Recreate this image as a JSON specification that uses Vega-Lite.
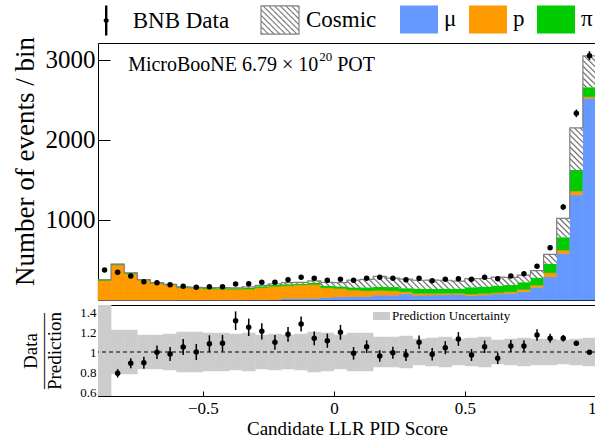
{
"$schema": "https://vega.github.io/schema/vega-lite/v6.json",
"padding": {"left": 10, "top": 0, "right": 0, "bottom": 2},
"bounds": "flush",
"spacing": 5,
"config": {
  "font": "Liberation Serif",
  "view": {"stroke": "black", "strokeWidth": 1},
  "axis": {"grid": false, "domainColor": "black", "tickColor": "black", "labelColor": "black", "titleColor": "black", "zindex": 1, "titleFontWeight": "normal", "labelFont": "Liberation Serif", "titleFont": "Liberation Serif", "labelOverlap": false},
  "legend": {"labelFont": "Liberation Serif", "labelColor": "black"}
},
"datasets": {"bins": [
{"x0":-0.9,"x1":-0.85,"xc":-0.875,"mu":0,"p":245,"pi":8,"zcosmic":0,"data":375,"err":19,"ratio":null,"rerr":null,"blo":0.4,"bhi":1.6},
{"x0":-0.85,"x1":-0.8,"xc":-0.825,"mu":0,"p":440,"pi":8,"zcosmic":0,"data":346,"err":19,"ratio":0.787,"rerr":0.042,"blo":0.78,"bhi":1.22},
{"x0":-0.8,"x1":-0.75,"xc":-0.775,"mu":0,"p":330,"pi":8,"zcosmic":0,"data":300,"err":17,"ratio":0.887,"rerr":0.05,"blo":0.78,"bhi":1.22},
{"x0":-0.75,"x1":-0.7,"xc":-0.725,"mu":0,"p":249,"pi":7,"zcosmic":0,"data":229,"err":15,"ratio":0.893,"rerr":0.06,"blo":0.83,"bhi":1.17},
{"x0":-0.7,"x1":-0.65,"xc":-0.675,"mu":0,"p":210,"pi":8,"zcosmic":0,"data":217,"err":15,"ratio":0.997,"rerr":0.068,"blo":0.83,"bhi":1.17},
{"x0":-0.65,"x1":-0.6,"xc":-0.625,"mu":0,"p":188,"pi":8,"zcosmic":0,"data":192,"err":14,"ratio":0.98,"rerr":0.07,"blo":0.82,"bhi":1.18},
{"x0":-0.6,"x1":-0.55,"xc":-0.575,"mu":1,"p":153,"pi":8,"zcosmic":2,"data":171,"err":13,"ratio":1.05,"rerr":0.08,"blo":0.8,"bhi":1.2},
{"x0":-0.55,"x1":-0.5,"xc":-0.525,"mu":1,"p":147,"pi":8,"zcosmic":2,"data":158,"err":13,"ratio":1.0,"rerr":0.08,"blo":0.8,"bhi":1.2},
{"x0":-0.5,"x1":-0.45,"xc":-0.475,"mu":2,"p":137,"pi":10,"zcosmic":5,"data":167,"err":13,"ratio":1.083,"rerr":0.084,"blo":0.81,"bhi":1.19},
{"x0":-0.45,"x1":-0.4,"xc":-0.425,"mu":2,"p":134,"pi":12,"zcosmic":6,"data":167,"err":13,"ratio":1.087,"rerr":0.084,"blo":0.81,"bhi":1.19},
{"x0":-0.4,"x1":-0.35,"xc":-0.375,"mu":2,"p":132,"pi":13,"zcosmic":5,"data":200,"err":14,"ratio":1.313,"rerr":0.093,"blo":0.82,"bhi":1.18},
{"x0":-0.35,"x1":-0.3,"xc":-0.325,"mu":3,"p":135,"pi":14,"zcosmic":12,"data":204,"err":14,"ratio":1.247,"rerr":0.087,"blo":0.81,"bhi":1.19},
{"x0":-0.3,"x1":-0.25,"xc":-0.275,"mu":3,"p":152,"pi":16,"zcosmic":12,"data":221,"err":15,"ratio":1.207,"rerr":0.081,"blo":0.83,"bhi":1.17},
{"x0":-0.25,"x1":-0.2,"xc":-0.225,"mu":4,"p":168,"pi":16,"zcosmic":13,"data":221,"err":15,"ratio":1.097,"rerr":0.074,"blo":0.82,"bhi":1.18},
{"x0":-0.2,"x1":-0.15,"xc":-0.175,"mu":18,"p":161,"pi":17,"zcosmic":20,"data":254,"err":16,"ratio":1.177,"rerr":0.074,"blo":0.83,"bhi":1.17},
{"x0":-0.15,"x1":-0.1,"xc":-0.125,"mu":20,"p":170,"pi":14,"zcosmic":17,"data":283,"err":17,"ratio":1.28,"rerr":0.076,"blo":0.82,"bhi":1.18},
{"x0":-0.1,"x1":-0.05,"xc":-0.075,"mu":22,"p":172,"pi":21,"zcosmic":23,"data":271,"err":16,"ratio":1.137,"rerr":0.069,"blo":0.8,"bhi":1.2},
{"x0":-0.05,"x1":0,"xc":-0.025,"mu":32,"p":122,"pi":21,"zcosmic":46,"data":246,"err":16,"ratio":1.113,"rerr":0.071,"blo":0.81,"bhi":1.19},
{"x0":0,"x1":0.05,"xc":0.025,"mu":40,"p":105,"pi":25,"zcosmic":46,"data":258,"err":16,"ratio":1.197,"rerr":0.074,"blo":0.83,"bhi":1.17},
{"x0":0.05,"x1":0.1,"xc":0.075,"mu":42,"p":85,"pi":30,"zcosmic":92,"data":246,"err":16,"ratio":0.987,"rerr":0.063,"blo":0.81,"bhi":1.19},
{"x0":0.1,"x1":0.15,"xc":0.125,"mu":45,"p":72,"pi":40,"zcosmic":100,"data":271,"err":16,"ratio":1.053,"rerr":0.064,"blo":0.81,"bhi":1.19},
{"x0":0.15,"x1":0.2,"xc":0.175,"mu":60,"p":62,"pi":43,"zcosmic":130,"data":283,"err":17,"ratio":0.96,"rerr":0.057,"blo":0.85,"bhi":1.15},
{"x0":0.2,"x1":0.25,"xc":0.225,"mu":60,"p":56,"pi":45,"zcosmic":112,"data":271,"err":16,"ratio":0.993,"rerr":0.06,"blo":0.85,"bhi":1.15},
{"x0":0.25,"x1":0.3,"xc":0.275,"mu":78,"p":26,"pi":42,"zcosmic":116,"data":254,"err":16,"ratio":0.97,"rerr":0.061,"blo":0.84,"bhi":1.16},
{"x0":0.3,"x1":0.35,"xc":0.325,"mu":60,"p":25,"pi":55,"zcosmic":107,"data":271,"err":16,"ratio":1.097,"rerr":0.067,"blo":0.87,"bhi":1.13},
{"x0":0.35,"x1":0.4,"xc":0.375,"mu":62,"p":22,"pi":55,"zcosmic":109,"data":242,"err":16,"ratio":0.977,"rerr":0.063,"blo":0.86,"bhi":1.14},
{"x0":0.4,"x1":0.45,"xc":0.425,"mu":65,"p":20,"pi":57,"zcosmic":105,"data":258,"err":16,"ratio":1.043,"rerr":0.065,"blo":0.85,"bhi":1.15},
{"x0":0.45,"x1":0.5,"xc":0.475,"mu":68,"p":18,"pi":55,"zcosmic":95,"data":267,"err":16,"ratio":1.13,"rerr":0.069,"blo":0.87,"bhi":1.13},
{"x0":0.5,"x1":0.55,"xc":0.525,"mu":54,"p":21,"pi":83,"zcosmic":108,"data":258,"err":16,"ratio":0.97,"rerr":0.06,"blo":0.86,"bhi":1.14},
{"x0":0.55,"x1":0.6,"xc":0.575,"mu":62,"p":21,"pi":84,"zcosmic":102,"data":283,"err":17,"ratio":1.053,"rerr":0.063,"blo":0.85,"bhi":1.15},
{"x0":0.6,"x1":0.65,"xc":0.625,"mu":75,"p":17,"pi":87,"zcosmic":106,"data":267,"err":16,"ratio":0.937,"rerr":0.057,"blo":0.88,"bhi":1.12},
{"x0":0.65,"x1":0.7,"xc":0.675,"mu":83,"p":21,"pi":83,"zcosmic":96,"data":300,"err":17,"ratio":1.06,"rerr":0.061,"blo":0.87,"bhi":1.13},
{"x0":0.7,"x1":0.75,"xc":0.725,"mu":104,"p":29,"pi":88,"zcosmic":89,"data":329,"err":18,"ratio":1.06,"rerr":0.058,"blo":0.86,"bhi":1.14},
{"x0":0.75,"x1":0.8,"xc":0.775,"mu":158,"p":29,"pi":92,"zcosmic":88,"data":421,"err":21,"ratio":1.17,"rerr":0.057,"blo":0.87,"bhi":1.13},
{"x0":0.8,"x1":0.85,"xc":0.825,"mu":292,"p":50,"pi":108,"zcosmic":121,"data":654,"err":26,"ratio":1.137,"rerr":0.045,"blo":0.87,"bhi":1.13},
{"x0":0.85,"x1":0.9,"xc":0.875,"mu":583,"p":42,"pi":158,"zcosmic":238,"data":1163,"err":34,"ratio":1.137,"rerr":0.033,"blo":0.88,"bhi":1.12},
{"x0":0.9,"x1":0.95,"xc":0.925,"mu":1315,"p":47,"pi":263,"zcosmic":525,"data":2333,"err":48,"ratio":1.087,"rerr":0.022,"blo":0.87,"bhi":1.13},
{"x0":0.95,"x1":1.0,"xc":0.975,"mu":2521,"p":20,"pi":117,"zcosmic":392,"data":3054,"err":55,"ratio":0.997,"rerr":0.018,"blo":0.86,"bhi":1.14}
]},
"vconcat": [
{
  "width": 498, "height": 257,
  "data": {"name": "bins"},
  "layer": [
    {
      "transform": [
        {"fold": ["mu","p","pi","zcosmic"], "as": ["comp","n"]},
        {"stack": "n", "groupby": ["x0"], "sort": [{"field": "comp", "order": "ascending"}], "as": ["lo","hi"]},
        {"filter": {"field": "comp", "oneOf": ["mu","p","pi"]}}
      ],
      "mark": {"type": "bar", "strokeWidth": 0.6},
      "encoding": {
        "x": {"field": "x0", "type": "quantitative", "scale": {"domain": [-0.9, 1], "nice": false, "zero": false},
              "axis": {"values": [-0.5, 0, 0.5, 1], "tickSize": -5, "labels": false, "title": null}},
        "x2": {"field": "x1"},
        "y": {"field": "lo", "type": "quantitative", "scale": {"domain": [0, 3212], "nice": false},
              "axis": {"values": [1000, 2000, 3000], "format": "d", "tickSize": -12, "labelPadding": 15, "labelFontSize": 25, "labelOverlap": false,
                       "title": "Number of events / bin", "titleFontSize": 27, "titleX": -73, "titleY": 118, "titleAngle": -90, "titleAlign": "center", "titleBaseline": "middle"}},
        "y2": {"field": "hi"},
        "color": {"field": "comp", "type": "nominal", "scale": {"domain": ["mu","p","pi"], "range": ["#6699ff","#ff9900","#00cc00"]},
                  "legend": {"orient": "none", "legendX": 302, "legendY": -43, "direction": "horizontal", "title": null,
                             "symbolType": "M-1,-0.74H1V0.74H-1Z", "symbolSize": 1444, "symbolStrokeWidth": 0, "symbolOpacity": 1,
                             "labelFontSize": 23, "labelOffset": 6, "columnPadding": 12, "padding": 0,
                             "labelExpr": "datum.label == 'mu' ? 'μ' : datum.label == 'pi' ? 'π' : datum.label"}},
        "stroke": {"field": "comp", "type": "nominal", "scale": {"domain": ["mu","p","pi"], "range": ["#6699ff","#ff9900","#00cc00"]}, "legend": null}
      }
    },
    {
      "transform": [
        {"fold": ["mu","p","pi","zcosmic"], "as": ["comp","n"]},
        {"stack": "n", "groupby": ["x0"], "sort": [{"field": "comp", "order": "ascending"}], "as": ["lo","hi"]},
        {"filter": {"field": "comp", "equal": "zcosmic"}},
        {"fold": ["x0","x1"], "as": ["edge","xe"]}
      ],
      "mark": {"type": "area", "interpolate": "linear", "strokeWidth": 0,
        "fill": {"gradient": "linear", "x1": 0, "y1": 1, "x2": 1.2044, "y2": 0.4382, "stops": [
{"offset":0,"color":"#666"},{"offset":0.0024,"color":"#fff"},{"offset":0.006,"color":"#fff"},
{"offset":0.008,"color":"#666"},{"offset":0.0104,"color":"#fff"},{"offset":0.014,"color":"#fff"},
{"offset":0.016,"color":"#666"},{"offset":0.0184,"color":"#fff"},{"offset":0.022,"color":"#fff"},
{"offset":0.024,"color":"#666"},{"offset":0.0264,"color":"#fff"},{"offset":0.03,"color":"#fff"},
{"offset":0.032,"color":"#666"},{"offset":0.0344,"color":"#fff"},{"offset":0.038,"color":"#fff"},
{"offset":0.04,"color":"#666"},{"offset":0.0424,"color":"#fff"},{"offset":0.046,"color":"#fff"},
{"offset":0.048,"color":"#666"},{"offset":0.0504,"color":"#fff"},{"offset":0.054,"color":"#fff"},
{"offset":0.056,"color":"#666"},{"offset":0.0584,"color":"#fff"},{"offset":0.062,"color":"#fff"},
{"offset":0.064,"color":"#666"},{"offset":0.0664,"color":"#fff"},{"offset":0.07,"color":"#fff"},
{"offset":0.072,"color":"#666"},{"offset":0.0744,"color":"#fff"},{"offset":0.078,"color":"#fff"},
{"offset":0.08,"color":"#666"},{"offset":0.0824,"color":"#fff"},{"offset":0.086,"color":"#fff"},
{"offset":0.088,"color":"#666"},{"offset":0.0904,"color":"#fff"},{"offset":0.094,"color":"#fff"},
{"offset":0.096,"color":"#666"},{"offset":0.0984,"color":"#fff"},{"offset":0.102,"color":"#fff"},
{"offset":0.104,"color":"#666"},{"offset":0.1064,"color":"#fff"},{"offset":0.11,"color":"#fff"},
{"offset":0.112,"color":"#666"},{"offset":0.1144,"color":"#fff"},{"offset":0.118,"color":"#fff"},
{"offset":0.12,"color":"#666"},{"offset":0.1224,"color":"#fff"},{"offset":0.126,"color":"#fff"},
{"offset":0.128,"color":"#666"},{"offset":0.1304,"color":"#fff"},{"offset":0.134,"color":"#fff"},
{"offset":0.136,"color":"#666"},{"offset":0.1384,"color":"#fff"},{"offset":0.142,"color":"#fff"},
{"offset":0.144,"color":"#666"},{"offset":0.1464,"color":"#fff"},{"offset":0.15,"color":"#fff"},
{"offset":0.152,"color":"#666"},{"offset":0.1544,"color":"#fff"},{"offset":0.158,"color":"#fff"},
{"offset":0.16,"color":"#666"},{"offset":0.1624,"color":"#fff"},{"offset":0.166,"color":"#fff"},
{"offset":0.168,"color":"#666"},{"offset":0.1704,"color":"#fff"},{"offset":0.174,"color":"#fff"},
{"offset":0.176,"color":"#666"},{"offset":0.1784,"color":"#fff"},{"offset":0.182,"color":"#fff"},
{"offset":0.184,"color":"#666"},{"offset":0.1864,"color":"#fff"},{"offset":0.19,"color":"#fff"},
{"offset":0.192,"color":"#666"},{"offset":0.1944,"color":"#fff"},{"offset":0.198,"color":"#fff"},
{"offset":0.2,"color":"#666"},{"offset":0.2024,"color":"#fff"},{"offset":0.206,"color":"#fff"},
{"offset":0.208,"color":"#666"},{"offset":0.2104,"color":"#fff"},{"offset":0.214,"color":"#fff"},
{"offset":0.216,"color":"#666"},{"offset":0.2184,"color":"#fff"},{"offset":0.222,"color":"#fff"},
{"offset":0.224,"color":"#666"},{"offset":0.2264,"color":"#fff"},{"offset":0.23,"color":"#fff"},
{"offset":0.232,"color":"#666"},{"offset":0.2344,"color":"#fff"},{"offset":0.238,"color":"#fff"},
{"offset":0.24,"color":"#666"},{"offset":0.2424,"color":"#fff"},{"offset":0.246,"color":"#fff"},
{"offset":0.248,"color":"#666"},{"offset":0.2504,"color":"#fff"},{"offset":0.254,"color":"#fff"},
{"offset":0.256,"color":"#666"},{"offset":0.2584,"color":"#fff"},{"offset":0.262,"color":"#fff"},
{"offset":0.264,"color":"#666"},{"offset":0.2664,"color":"#fff"},{"offset":0.27,"color":"#fff"},
{"offset":0.272,"color":"#666"},{"offset":0.2744,"color":"#fff"},{"offset":0.278,"color":"#fff"},
{"offset":0.28,"color":"#666"},{"offset":0.2824,"color":"#fff"},{"offset":0.286,"color":"#fff"},
{"offset":0.288,"color":"#666"},{"offset":0.2904,"color":"#fff"},{"offset":0.294,"color":"#fff"},
{"offset":0.296,"color":"#666"},{"offset":0.2984,"color":"#fff"},{"offset":0.302,"color":"#fff"},
{"offset":0.304,"color":"#666"},{"offset":0.3064,"color":"#fff"},{"offset":0.31,"color":"#fff"},
{"offset":0.312,"color":"#666"},{"offset":0.3144,"color":"#fff"},{"offset":0.318,"color":"#fff"},
{"offset":0.32,"color":"#666"},{"offset":0.3224,"color":"#fff"},{"offset":0.326,"color":"#fff"},
{"offset":0.328,"color":"#666"},{"offset":0.3304,"color":"#fff"},{"offset":0.334,"color":"#fff"},
{"offset":0.336,"color":"#666"},{"offset":0.3384,"color":"#fff"},{"offset":0.342,"color":"#fff"},
{"offset":0.344,"color":"#666"},{"offset":0.3464,"color":"#fff"},{"offset":0.35,"color":"#fff"},
{"offset":0.352,"color":"#666"},{"offset":0.3544,"color":"#fff"},{"offset":0.358,"color":"#fff"},
{"offset":0.36,"color":"#666"},{"offset":0.3624,"color":"#fff"},{"offset":0.366,"color":"#fff"},
{"offset":0.368,"color":"#666"},{"offset":0.3704,"color":"#fff"},{"offset":0.374,"color":"#fff"},
{"offset":0.376,"color":"#666"},{"offset":0.3784,"color":"#fff"},{"offset":0.382,"color":"#fff"},
{"offset":0.384,"color":"#666"},{"offset":0.3864,"color":"#fff"},{"offset":0.39,"color":"#fff"},
{"offset":0.392,"color":"#666"},{"offset":0.3944,"color":"#fff"},{"offset":0.398,"color":"#fff"},
{"offset":0.4,"color":"#666"},{"offset":0.4024,"color":"#fff"},{"offset":0.406,"color":"#fff"},
{"offset":0.408,"color":"#666"},{"offset":0.4104,"color":"#fff"},{"offset":0.414,"color":"#fff"},
{"offset":0.416,"color":"#666"},{"offset":0.4184,"color":"#fff"},{"offset":0.422,"color":"#fff"},
{"offset":0.424,"color":"#666"},{"offset":0.4264,"color":"#fff"},{"offset":0.43,"color":"#fff"},
{"offset":0.432,"color":"#666"},{"offset":0.4344,"color":"#fff"},{"offset":0.438,"color":"#fff"},
{"offset":0.44,"color":"#666"},{"offset":0.4424,"color":"#fff"},{"offset":0.446,"color":"#fff"},
{"offset":0.448,"color":"#666"},{"offset":0.4504,"color":"#fff"},{"offset":0.454,"color":"#fff"},
{"offset":0.456,"color":"#666"},{"offset":0.4584,"color":"#fff"},{"offset":0.462,"color":"#fff"},
{"offset":0.464,"color":"#666"},{"offset":0.4664,"color":"#fff"},{"offset":0.47,"color":"#fff"},
{"offset":0.472,"color":"#666"},{"offset":0.4744,"color":"#fff"},{"offset":0.478,"color":"#fff"},
{"offset":0.48,"color":"#666"},{"offset":0.4824,"color":"#fff"},{"offset":0.486,"color":"#fff"},
{"offset":0.488,"color":"#666"},{"offset":0.4904,"color":"#fff"},{"offset":0.494,"color":"#fff"},
{"offset":0.496,"color":"#666"},{"offset":0.4984,"color":"#fff"},{"offset":0.502,"color":"#fff"},
{"offset":0.504,"color":"#666"},{"offset":0.5064,"color":"#fff"},{"offset":0.51,"color":"#fff"},
{"offset":0.512,"color":"#666"},{"offset":0.5144,"color":"#fff"},{"offset":0.518,"color":"#fff"},
{"offset":0.52,"color":"#666"},{"offset":0.5224,"color":"#fff"},{"offset":0.526,"color":"#fff"},
{"offset":0.528,"color":"#666"},{"offset":0.5304,"color":"#fff"},{"offset":0.534,"color":"#fff"},
{"offset":0.536,"color":"#666"},{"offset":0.5384,"color":"#fff"},{"offset":0.542,"color":"#fff"},
{"offset":0.544,"color":"#666"},{"offset":0.5464,"color":"#fff"},{"offset":0.55,"color":"#fff"},
{"offset":0.552,"color":"#666"},{"offset":0.5544,"color":"#fff"},{"offset":0.558,"color":"#fff"},
{"offset":0.56,"color":"#666"},{"offset":0.5624,"color":"#fff"},{"offset":0.566,"color":"#fff"},
{"offset":0.568,"color":"#666"},{"offset":0.5704,"color":"#fff"},{"offset":0.574,"color":"#fff"},
{"offset":0.576,"color":"#666"},{"offset":0.5784,"color":"#fff"},{"offset":0.582,"color":"#fff"},
{"offset":0.584,"color":"#666"},{"offset":0.5864,"color":"#fff"},{"offset":0.59,"color":"#fff"},
{"offset":0.592,"color":"#666"},{"offset":0.5944,"color":"#fff"},{"offset":0.598,"color":"#fff"},
{"offset":0.6,"color":"#666"},{"offset":0.6024,"color":"#fff"},{"offset":0.606,"color":"#fff"},
{"offset":0.608,"color":"#666"},{"offset":0.6104,"color":"#fff"},{"offset":0.614,"color":"#fff"},
{"offset":0.616,"color":"#666"},{"offset":0.6184,"color":"#fff"},{"offset":0.622,"color":"#fff"},
{"offset":0.624,"color":"#666"},{"offset":0.6264,"color":"#fff"},{"offset":0.63,"color":"#fff"},
{"offset":0.632,"color":"#666"},{"offset":0.6344,"color":"#fff"},{"offset":0.638,"color":"#fff"},
{"offset":0.64,"color":"#666"},{"offset":0.6424,"color":"#fff"},{"offset":0.646,"color":"#fff"},
{"offset":0.648,"color":"#666"},{"offset":0.6504,"color":"#fff"},{"offset":0.654,"color":"#fff"},
{"offset":0.656,"color":"#666"},{"offset":0.6584,"color":"#fff"},{"offset":0.662,"color":"#fff"},
{"offset":0.664,"color":"#666"},{"offset":0.6664,"color":"#fff"},{"offset":0.67,"color":"#fff"},
{"offset":0.672,"color":"#666"},{"offset":0.6744,"color":"#fff"},{"offset":0.678,"color":"#fff"},
{"offset":0.68,"color":"#666"},{"offset":0.6824,"color":"#fff"},{"offset":0.686,"color":"#fff"},
{"offset":0.688,"color":"#666"},{"offset":0.6904,"color":"#fff"},{"offset":0.694,"color":"#fff"},
{"offset":0.696,"color":"#666"},{"offset":0.6984,"color":"#fff"},{"offset":0.702,"color":"#fff"},
{"offset":0.704,"color":"#666"},{"offset":0.7064,"color":"#fff"},{"offset":0.71,"color":"#fff"},
{"offset":0.712,"color":"#666"},{"offset":0.7144,"color":"#fff"},{"offset":0.718,"color":"#fff"},
{"offset":0.72,"color":"#666"},{"offset":0.7224,"color":"#fff"},{"offset":0.726,"color":"#fff"},
{"offset":0.728,"color":"#666"},{"offset":0.7304,"color":"#fff"},{"offset":0.734,"color":"#fff"},
{"offset":0.736,"color":"#666"},{"offset":0.7384,"color":"#fff"},{"offset":0.742,"color":"#fff"},
{"offset":0.744,"color":"#666"},{"offset":0.7464,"color":"#fff"},{"offset":0.75,"color":"#fff"},
{"offset":0.752,"color":"#666"},{"offset":0.7544,"color":"#fff"},{"offset":0.758,"color":"#fff"},
{"offset":0.76,"color":"#666"},{"offset":0.7624,"color":"#fff"},{"offset":0.766,"color":"#fff"},
{"offset":0.768,"color":"#666"},{"offset":0.7704,"color":"#fff"},{"offset":0.774,"color":"#fff"},
{"offset":0.776,"color":"#666"},{"offset":0.7784,"color":"#fff"},{"offset":0.782,"color":"#fff"},
{"offset":0.784,"color":"#666"},{"offset":0.7864,"color":"#fff"},{"offset":0.79,"color":"#fff"},
{"offset":0.792,"color":"#666"},{"offset":0.7944,"color":"#fff"},{"offset":0.798,"color":"#fff"},
{"offset":0.8,"color":"#666"},{"offset":0.8024,"color":"#fff"},{"offset":0.806,"color":"#fff"},
{"offset":0.808,"color":"#666"},{"offset":0.8104,"color":"#fff"},{"offset":0.814,"color":"#fff"},
{"offset":0.816,"color":"#666"},{"offset":0.8184,"color":"#fff"},{"offset":0.822,"color":"#fff"},
{"offset":0.824,"color":"#666"},{"offset":0.8264,"color":"#fff"},{"offset":0.83,"color":"#fff"},
{"offset":0.832,"color":"#666"},{"offset":0.8344,"color":"#fff"},{"offset":0.838,"color":"#fff"},
{"offset":0.84,"color":"#666"},{"offset":0.8424,"color":"#fff"},{"offset":0.846,"color":"#fff"},
{"offset":0.848,"color":"#666"},{"offset":0.8504,"color":"#fff"},{"offset":0.854,"color":"#fff"},
{"offset":0.856,"color":"#666"},{"offset":0.8584,"color":"#fff"},{"offset":0.862,"color":"#fff"},
{"offset":0.864,"color":"#666"},{"offset":0.8664,"color":"#fff"},{"offset":0.87,"color":"#fff"},
{"offset":0.872,"color":"#666"},{"offset":0.8744,"color":"#fff"},{"offset":0.878,"color":"#fff"},
{"offset":0.88,"color":"#666"},{"offset":0.8824,"color":"#fff"},{"offset":0.886,"color":"#fff"},
{"offset":0.888,"color":"#666"},{"offset":0.8904,"color":"#fff"},{"offset":0.894,"color":"#fff"},
{"offset":0.896,"color":"#666"},{"offset":0.8984,"color":"#fff"},{"offset":0.902,"color":"#fff"},
{"offset":0.904,"color":"#666"},{"offset":0.9064,"color":"#fff"},{"offset":0.91,"color":"#fff"},
{"offset":0.912,"color":"#666"},{"offset":0.9144,"color":"#fff"},{"offset":0.918,"color":"#fff"},
{"offset":0.92,"color":"#666"},{"offset":0.9224,"color":"#fff"},{"offset":0.926,"color":"#fff"},
{"offset":0.928,"color":"#666"},{"offset":0.9304,"color":"#fff"},{"offset":0.934,"color":"#fff"},
{"offset":0.936,"color":"#666"},{"offset":0.9384,"color":"#fff"},{"offset":0.942,"color":"#fff"},
{"offset":0.944,"color":"#666"},{"offset":0.9464,"color":"#fff"},{"offset":0.95,"color":"#fff"},
{"offset":0.952,"color":"#666"},{"offset":0.9544,"color":"#fff"},{"offset":0.958,"color":"#fff"},
{"offset":0.96,"color":"#666"},{"offset":0.9624,"color":"#fff"},{"offset":0.966,"color":"#fff"},
{"offset":0.968,"color":"#666"},{"offset":0.9704,"color":"#fff"},{"offset":0.974,"color":"#fff"},
{"offset":0.976,"color":"#666"},{"offset":0.9784,"color":"#fff"},{"offset":0.982,"color":"#fff"},
{"offset":0.984,"color":"#666"},{"offset":0.9864,"color":"#fff"},{"offset":0.99,"color":"#fff"},
{"offset":0.992,"color":"#666"},{"offset":0.9944,"color":"#fff"},{"offset":0.998,"color":"#fff"},
{"offset":1,"color":"#666"}
        ]}},
      "encoding": {
        "x": {"field": "xe", "type": "quantitative"},
        "y": {"field": "hi", "type": "quantitative"},
        "y2": {"field": "lo"}
      }
    },
    {
      "transform": [
        {"fold": ["mu","p","pi","zcosmic"], "as": ["comp","n"]},
        {"stack": "n", "groupby": ["x0"], "sort": [{"field": "comp", "order": "ascending"}], "as": ["lo","hi"]},
        {"filter": {"field": "comp", "equal": "zcosmic"}},
        {"fold": ["x0","x1"], "as": ["edge","xe"]}
      ],
      "mark": {"type": "line", "color": "#808080", "strokeWidth": 1.2, "interpolate": "linear"},
      "encoding": {
        "x": {"field": "xe", "type": "quantitative"},
        "y": {"field": "hi", "type": "quantitative"}
      }
    },
    {
      "mark": {"type": "errorbar", "ticks": false, "color": "black", "thickness": 1.5},
      "encoding": {
        "x": {"field": "xc", "type": "quantitative"},
        "y": {"field": "data", "type": "quantitative", "title": "Number of events / bin"},
        "yError": {"field": "err"}
      }
    },
    {
      "mark": {"type": "point", "filled": true, "color": "black", "size": 30, "opacity": 1},
      "encoding": {
        "x": {"field": "xc", "type": "quantitative"},
        "y": {"field": "data", "type": "quantitative"}
      }
    },
    {
      "data": {"values": [{}]},
      "mark": {"type": "point", "filled": false, "color": "black", "strokeWidth": 2.4, "clip": true, "opacity": 1},
      "encoding": {
        "x": {"datum": 5}, "y": {"datum": 5000},
        "shape": {"datum": "BNB Data", "scale": {"domain": ["BNB Data"], "range": ["M0,-0.79L0,0.79M0.07,0A0.07,0.07,0,1,1,-0.07,0A0.07,0.07,0,1,1,0.07,0Z"]},
          "legend": {"orient": "none", "legendX": -12.3, "legendY": -43, "direction": "horizontal", "title": null,
                     "symbolSize": 1444, "symbolStrokeWidth": 2.4, "symbolStrokeColor": "black", "symbolOpacity": 1,
                     "labelFontSize": 23, "labelOffset": 6, "padding": 0}}
      }
    },
    {
      "data": {"values": [{}]},
      "mark": {"type": "point", "shape": "M-1,-0.74H1V0.74H-1ZM0.91,-0.74L1,-0.65M0.61,-0.74L1,-0.35M0.31,-0.74L1,-0.05M0.01,-0.74L1,0.25M-0.29,-0.74L1,0.55M-0.59,-0.74L0.89,0.74M-0.89,-0.74L0.59,0.74M-1,-0.55L0.29,0.74M-1,-0.25L-0.01,0.74M-1,0.05L-0.31,0.74M-1,0.35L-0.61,0.74M-1,0.65L-0.91,0.74",
               "filled": false, "color": "#808080", "strokeWidth": 1.2, "clip": true, "opacity": 1},
      "encoding": {
        "x": {"datum": 5}, "y": {"datum": 5000},
        "strokeDash": {"datum": "Cosmic", "scale": {"domain": ["Cosmic"], "range": [[1, 0]]},
          "legend": {"orient": "none", "legendX": 162, "legendY": -43, "direction": "horizontal", "title": null,
                     "symbolType": "M-1,-0.74H1V0.74H-1ZM0.91,-0.74L1,-0.65M0.61,-0.74L1,-0.35M0.31,-0.74L1,-0.05M0.01,-0.74L1,0.25M-0.29,-0.74L1,0.55M-0.59,-0.74L0.89,0.74M-0.89,-0.74L0.59,0.74M-1,-0.55L0.29,0.74M-1,-0.25L-0.01,0.74M-1,0.05L-0.31,0.74M-1,0.35L-0.61,0.74M-1,0.65L-0.91,0.74",
                     "symbolSize": 1444, "symbolStrokeWidth": 1.2, "symbolStrokeColor": "#808080", "symbolOpacity": 1,
                     "labelFontSize": 23, "labelOffset": 6, "padding": 0}}
      }
    },
    {
      "data": {"values": [{}]},
      "mark": {"type": "text", "align": "left", "baseline": "middle", "fontSize": 20, "text": "MicroBooNE 6.79 × 10"},
      "encoding": {"x": {"datum": -0.785}, "y": {"datum": 2937}}
    },
    {
      "data": {"values": [{}]},
      "mark": {"type": "text", "align": "left", "baseline": "middle", "fontSize": 13, "text": "20", "dx": 191, "dy": -8},
      "encoding": {"x": {"datum": -0.785}, "y": {"datum": 2937}}
    },
    {
      "data": {"values": [{}]},
      "mark": {"type": "text", "align": "left", "baseline": "middle", "fontSize": 20, "text": "POT", "dx": 209},
      "encoding": {"x": {"datum": -0.785}, "y": {"datum": 2937}}
    }
  ]
},
{
  "width": 498, "height": 91,
  "data": {"name": "bins"},
  "layer": [
    {
      "mark": {"type": "rect", "color": "#cccccc", "stroke": "#cccccc", "strokeWidth": 0.5, "clip": true},
      "encoding": {
        "x": {"field": "x0", "type": "quantitative", "scale": {"domain": [-0.9, 1], "nice": false, "zero": false},
              "axis": {"values": [-0.5, 0, 0.5, 1], "format": "~g", "tickSize": -5, "labelPadding": 9, "labelFontSize": 17,
                       "labelFlush": 5, "labelFlushOffset": 0, "title": "Candidate LLR PID Score", "titleFontSize": 19, "titlePadding": 3}},
        "x2": {"field": "x1"},
        "y": {"field": "blo", "type": "quantitative", "scale": {"domain": [0.56, 1.47], "nice": false, "zero": false},
              "axis": {"values": [0.6, 0.8, 1, 1.2, 1.4], "tickCount": 5, "format": "~g", "tickSize": -4, "labelPadding": 6, "labelFontSize": 13, "labelOverlap": false, "labelBound": false,
                       "title": ["Data", "————", "Prediction"], "titleFontSize": 19, "titleLineHeight": 12,
                       "titleX": -68, "titleY": 45.5, "titleAngle": -90, "titleAlign": "center", "titleBaseline": "middle"}},
        "y2": {"field": "bhi"}
      }
    },
    {
      "data": {"values": [{}]},
      "mark": {"type": "rect", "color": "#cccccc"},
      "encoding": {"x": {"datum": 0.149}, "x2": {"datum": 0.214},
                   "y": {"datum": 1.40, "axis": {"values": [0.6, 0.8, 1, 1.2, 1.4], "tickCount": 5, "format": "~g", "tickSize": -4, "labelPadding": 6, "labelFontSize": 13, "labelOverlap": false, "labelBound": false,
                       "title": ["Data", "————", "Prediction"], "titleFontSize": 19, "titleLineHeight": 12,
                       "titleX": -68, "titleY": 45.5, "titleAngle": -90, "titleAlign": "center", "titleBaseline": "middle"}},
                   "y2": {"datum": 1.32}}
    },
    {
      "data": {"values": [{}]},
      "mark": {"type": "text", "align": "left", "baseline": "middle", "fontSize": 13, "text": "Prediction Uncertainty"},
      "encoding": {"x": {"datum": 0.222},
                   "y": {"datum": 1.36, "axis": {"values": [0.6, 0.8, 1, 1.2, 1.4], "tickCount": 5, "format": "~g", "tickSize": -4, "labelPadding": 6, "labelFontSize": 13, "labelOverlap": false, "labelBound": false,
                       "title": ["Data", "————", "Prediction"], "titleFontSize": 19, "titleLineHeight": 12,
                       "titleX": -68, "titleY": 45.5, "titleAngle": -90, "titleAlign": "center", "titleBaseline": "middle"}}}
    },
    {
      "data": {"values": [{}]},
      "mark": {"type": "rule", "strokeDash": [4, 3], "color": "black", "strokeWidth": 1},
      "encoding": {"y": {"datum": 1, "axis": {"values": [0.6, 0.8, 1, 1.2, 1.4], "tickCount": 5, "format": "~g", "tickSize": -4, "labelPadding": 6, "labelFontSize": 13, "labelOverlap": false, "labelBound": false,
                       "title": ["Data", "————", "Prediction"], "titleFontSize": 19, "titleLineHeight": 12,
                       "titleX": -68, "titleY": 45.5, "titleAngle": -90, "titleAlign": "center", "titleBaseline": "middle"}}}
    },
    {
      "mark": {"type": "errorbar", "ticks": false, "color": "black", "thickness": 1.5},
      "encoding": {
        "x": {"field": "xc", "type": "quantitative"},
        "y": {"field": "ratio", "type": "quantitative", "title": ["Data", "————", "Prediction"],
              "axis": {"values": [0.6, 0.8, 1, 1.2, 1.4], "tickCount": 5, "format": "~g", "tickSize": -4, "labelPadding": 6, "labelFontSize": 13, "labelOverlap": false, "labelBound": false,
                       "title": ["Data", "————", "Prediction"], "titleFontSize": 19, "titleLineHeight": 12,
                       "titleX": -68, "titleY": 45.5, "titleAngle": -90, "titleAlign": "center", "titleBaseline": "middle"}},
        "yError": {"field": "rerr"}
      }
    },
    {
      "mark": {"type": "point", "filled": true, "color": "black", "size": 30, "opacity": 1, "clip": true},
      "encoding": {
        "x": {"field": "xc", "type": "quantitative"},
        "y": {"field": "ratio", "type": "quantitative",
              "axis": {"values": [0.6, 0.8, 1, 1.2, 1.4], "tickCount": 5, "format": "~g", "tickSize": -4, "labelPadding": 6, "labelFontSize": 13, "labelOverlap": false, "labelBound": false,
                       "title": ["Data", "————", "Prediction"], "titleFontSize": 19, "titleLineHeight": 12,
                       "titleX": -68, "titleY": 45.5, "titleAngle": -90, "titleAlign": "center", "titleBaseline": "middle"}}
      }
    }
  ]
}
]
}
